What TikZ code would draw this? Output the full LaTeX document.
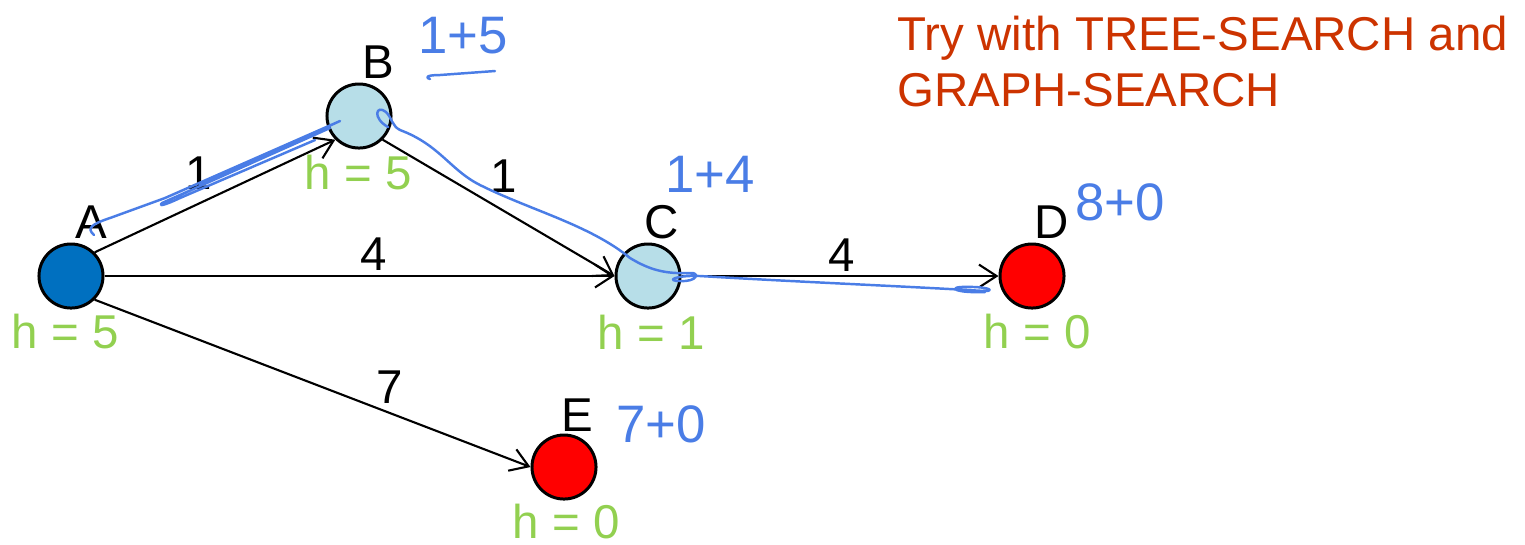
\documentclass[tikz,border=0pt]{standalone}
\usepackage{fontspec}
\setmainfont{Liberation Sans}
\usetikzlibrary{arrows.meta}
\definecolor{node-dark}{HTML}{0070C0}
\definecolor{node-light}{HTML}{B7DEE8}
\definecolor{node-red}{HTML}{FF0000}
\definecolor{h-green}{HTML}{92D050}
\definecolor{title-red}{HTML}{CC3300}
\definecolor{ink-blue}{HTML}{4A7DE6}
\newcommand\labfont{\fontsize{13.5}{16}\selectfont}

\begin{document}
\begin{tikzpicture}[
    x=0.01cm, y=-0.01cm,
    state/.style={circle, draw, line width=0.85pt, minimum size=0.64cm, inner sep=0pt},
    edge/.style={-{Straight Barb[length=5pt, width=6.5pt]}, line width=0.6pt},
    lettr/.style={font=\labfont, inner sep=0pt},
    hval/.style={font=\labfont, text=h-green, inner sep=0pt},
    wt/.style={font=\labfont, inner sep=0pt},
    ink/.style={draw=ink-blue, line width=0.7pt, line cap=round, line join=round},
    note/.style={font=\fontsize{15}{17}\selectfont, text=ink-blue, inner sep=0pt},
]
    \useasboundingbox (0,0) rectangle (1525,544);

    % States
    \node[state, fill=node-dark]  (A) at (71,276)   {};
    \node[state, fill=node-light] (B) at (359,116)  {};
    \node[state, fill=node-light] (C) at (648,276)  {};
    \node[state, fill=node-red]   (D) at (1032,276) {};
    \node[state, fill=node-red]   (E) at (564,467)  {};

    % Names
    \node[lettr] (nA) at (91,222)   {A};
    \node[lettr] (nB) at (378,62)   {B};
    \node[lettr] (nC) at (662,222)  {C};
    \node[lettr] (nD) at (1052,222) {D};
    \node[lettr] (nE) at (577,415)  {E};

    % Heuristic values
    \node[hval] (hA) at (65,332)   {h = 5};
    \node[hval] (hB) at (358,173)  {h = 5};
    \node[hval] (hC) at (651,332)  {h = 1};
    \node[hval] (hD) at (1037,332) {h = 0};
    \node[hval] (hE) at (566,522)  {h = 0};

    % Edges
    \draw[edge] (A.north east) -- (B.south west) node[wt, midway, shift={(-16,-23)}] {1};
    \draw[edge] (B.south east) -- (C.west)       node[wt, midway, shift={(5,-32)}]   {1};
    \draw[edge] (A.east)       -- (C.west)       node[wt, midway, shift={(14,-22)}]  {4};
    \draw[edge] (C.east)       -- (D.west)       node[wt, midway, shift={(2,-21)}]   {4};
    \draw[edge] (A.south east) -- (E.west)       node[wt, pos=0.7, shift={(-10,-30)}] {7};

    % Title
    \node[font=\labfont, text=title-red, anchor=north west, align=left, inner sep=0pt]
        (title) at (897,15) {Try with TREE-SEARCH and\\GRAPH-SEARCH};

    % Handwritten notes
    \node[note] (fB) at (463,36)   {1+5};
    \node[note] (fC) at (710,174)  {1+4};
    \node[note] (fD) at (1120,202) {8+0};
    \node[note] (fE) at (661,424)  {7+0};
    \draw[ink] (430,79) .. controls (424,77) and (428,75) .. (440,75) -- (495,71);

    % Handwritten path
    \draw[ink] (94,235) .. controls (86,228) and (92,224) .. (110,218) -- (165,198) -- (340,121)
        -- (200,185) -- (330,128) -- (162,203) .. controls (158,207) and (165,205) .. (180,198) -- (315,140);
    \draw[ink] (388,127) .. controls (372,118) and (376,104) .. (386,112)
        .. controls (392,118) and (392,126) .. (400,130)
        .. controls (440,145) and (450,170) .. (480,185)
        .. controls (530,210) and (590,225) .. (630,258)
        .. controls (650,270) and (665,274) .. (690,273)
        .. controls (700,272) and (698,282) .. (680,281)
        .. controls (665,281) and (675,275) .. (700,276)
        .. controls (800,282) and (900,286) .. (985,291)
        .. controls (995,291) and (990,286) .. (960,287)
        .. controls (950,288) and (955,293) .. (985,292);
\end{tikzpicture}
\end{document}
